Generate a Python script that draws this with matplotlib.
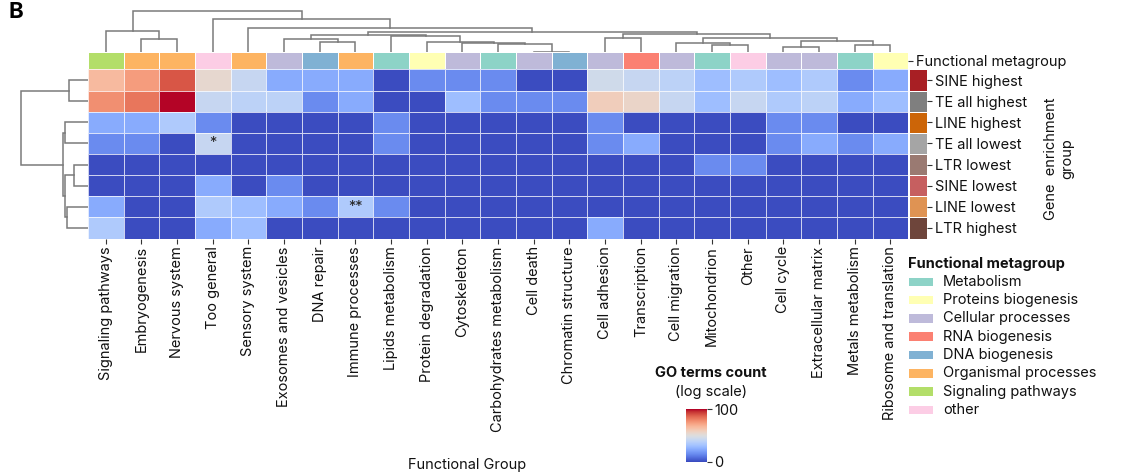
import numpy as np
import matplotlib
matplotlib.use("Agg")
import matplotlib.pyplot as plt
from matplotlib.colors import ListedColormap, Normalize
from matplotlib.patches import Rectangle
from matplotlib.cm import ScalarMappable

plt.rcParams['font.family'] = ['Inter', 'DejaVu Sans']

# ---------------- data ----------------
functional_groups = [
    "Signaling pathways", "Embryogenesis", "Nervous system", "Too general",
    "Sensory system", "Exosomes and vesicles", "DNA repair", "Immune processes",
    "Lipids metabolism", "Protein degradation", "Cytoskeleton",
    "Carbohydrates metabolism", "Cell death", "Chromatin structure",
    "Cell adhesion", "Transcription", "Cell migration", "Mitochondrion",
    "Other", "Cell cycle", "Extracellular matrix", "Metals metabolism",
    "Ribosome and translation",
]

column_metagroup = [
    "Signaling pathways", "Organismal processes", "Organismal processes", "other",
    "Organismal processes", "Cellular processes", "DNA biogenesis", "Organismal processes",
    "Metabolism", "Proteins biogenesis", "Cellular processes",
    "Metabolism", "Cellular processes", "DNA biogenesis",
    "Cellular processes", "RNA biogenesis", "Cellular processes", "Metabolism",
    "other", "Cellular processes", "Cellular processes", "Metabolism",
    "Proteins biogenesis",
]

metagroups = ["Metabolism", "Proteins biogenesis", "Cellular processes", "RNA biogenesis",
              "DNA biogenesis", "Organismal processes", "Signaling pathways", "other"]
metagroup_colors = ["#8dd3c7", "#ffffb3", "#bebada", "#fb8072",
                    "#80b1d3", "#fdb462", "#b3de69", "#fccde5"]

enrichment_groups = ["SINE highest", "TE all highest", "LINE highest", "TE all lowest",
                     "LTR lowest", "SINE lowest", "LINE lowest", "LTR highest"]
enrichment_colors = ["#a81f24", "#7f7f7f", "#cc6508", "#a5a5a5",
                     "#9a7a72", "#c65f60", "#df9353", "#6e453b"]

# GO terms count per (enrichment group, functional group)
go_counts = [
    [20, 30, 60, 11, 6, 2, 2, 2, 0, 1, 1, 1, 0, 0, 7, 6, 5, 3, 4, 3, 4, 1, 2],
    [35, 45, 100, 6, 5, 5, 1, 2, 0, 0, 3, 1, 1, 1, 14, 12, 6, 3, 6, 4, 5, 2, 3],
    [2, 2, 4, 1, 0, 0, 0, 0, 1, 0, 0, 0, 0, 0, 1, 0, 0, 0, 0, 1, 1, 0, 0],
    [1, 1, 0, 6, 0, 0, 0, 0, 1, 0, 0, 0, 0, 0, 1, 2, 0, 0, 0, 1, 2, 1, 2],
    [0, 0, 0, 0, 0, 0, 0, 0, 0, 0, 0, 0, 0, 0, 0, 0, 0, 1, 1, 0, 0, 0, 0],
    [0, 0, 0, 2, 0, 1, 0, 0, 0, 0, 0, 0, 0, 0, 0, 0, 0, 0, 0, 0, 0, 0, 0],
    [2, 0, 0, 4, 3, 2, 1, 4, 1, 0, 0, 0, 0, 0, 0, 0, 0, 0, 0, 0, 0, 0, 0],
    [4, 0, 0, 2, 3, 0, 0, 0, 0, 0, 0, 0, 0, 0, 2, 0, 0, 0, 0, 0, 0, 0, 0],
]

significance = [
    ["", "", "", "", "", "", "", "", "", "", "", "", "", "", "", "", "", "", "", "", "", "", ""],
    ["", "", "", "", "", "", "", "", "", "", "", "", "", "", "", "", "", "", "", "", "", "", ""],
    ["", "", "", "", "", "", "", "", "", "", "", "", "", "", "", "", "", "", "", "", "", "", ""],
    ["", "", "", "*", "", "", "", "", "", "", "", "", "", "", "", "", "", "", "", "", "", "", ""],
    ["", "", "", "", "", "", "", "", "", "", "", "", "", "", "", "", "", "", "", "", "", "", ""],
    ["", "", "", "", "", "", "", "", "", "", "", "", "", "", "", "", "", "", "", "", "", "", ""],
    ["", "", "", "", "", "", "", "**", "", "", "", "", "", "", "", "", "", "", "", "", "", "", ""],
    ["", "", "", "", "", "", "", "", "", "", "", "", "", "", "", "", "", "", "", "", "", "", ""],
]

# hierarchical clustering (scipy-style linkage: left, right, height)
col_linkage = [
    (12, 13, 0.3), (19, 20, 5.3), (17, 18, 7.0), (21, 22, 7.0),
    (11, 23, 7.7), (10, 27, 9.3), (16, 25, 9.3), (6, 7, 10.0),
    (9, 28, 10.3), (24, 26, 11.3), (1, 2, 13.0), (5, 30, 13.3),
    (14, 15, 14.3), (29, 32, 14.3), (8, 31, 16.0), (34, 37, 17.3),
    (35, 36, 17.7), (38, 39, 20.0), (0, 33, 21.3), (4, 40, 24.0),
    (3, 42, 33.0), (41, 43, 41.3),
]
row_linkage = [
    (4, 5, 13.7), (0, 1, 18.7), (6, 7, 20.7), (8, 10, 22.7),
    (2, 3, 23.0), (12, 11, 25.3), (9, 13, 67.3),
]

# ---------------- figure ----------------
W, H = 1127, 476
fig = plt.figure(figsize=(W / 100, H / 100), dpi=100)
FS = 10.5
TXT = "#111111"


def add_ax(x0, y0, x1, y1):
    return fig.add_axes([x0 / W, 1 - y1 / H, (x1 - x0) / W, (y1 - y0) / H])


def dendro_segments(linkage, n_leaves):
    pos = {i: i + 0.5 for i in range(n_leaves)}
    hgt = {i: 0.0 for i in range(n_leaves)}
    segs = []
    for k, (a, b, h) in enumerate(linkage):
        cid = n_leaves + k
        xa, xb = pos[a], pos[b]
        segs.append(([xa, xa, xb, xb], [hgt[a], h, h, hgt[b]]))
        pos[cid] = (xa + xb) / 2
        hgt[cid] = h
    return segs


n_rows, n_cols = len(enrichment_groups), len(functional_groups)
counts = np.array(go_counts, dtype=float)
vmax_count = 100
norm = Normalize(0, np.log1p(vmax_count))
cmap = plt.get_cmap("coolwarm")

HX0, HX1, HY0, HY1 = 88, 908.3, 69.5, 238.5

# heatmap
ax = add_ax(HX0, HY0, HX1, HY1)
ax.pcolormesh(np.arange(n_cols + 1), np.arange(n_rows + 1), np.log1p(counts),
              cmap=cmap, norm=norm, edgecolors=(1, 1, 1, 0.75), linewidth=0.7)
ax.set_xlim(0, n_cols)
ax.set_ylim(n_rows, 0)
for i in range(n_rows):
    for j in range(n_cols):
        if significance[i][j]:
            ax.text(j + 0.5, i + 0.5, significance[i][j], ha='center', va='center',
                    fontsize=FS, color="#262626")
ax.set_xticks(np.arange(n_cols) + 0.5)
ax.set_xticklabels(functional_groups, rotation=90, fontsize=FS, color=TXT)
ax.set_yticks([])
ax.tick_params(axis='x', length=3.5, width=0.8, pad=2, color="#333333")
for s in ax.spines.values():
    s.set_visible(False)

# column colors
axc = add_ax(HX0, 52, HX1, 69.2)
col_idx = np.array([[metagroups.index(g) for g in column_metagroup]])
axc.pcolormesh(np.arange(n_cols + 1), [0, 1], col_idx, cmap=ListedColormap(metagroup_colors),
               vmin=-0.5, vmax=len(metagroups) - 0.5, edgecolors='white', linewidth=0.7)
axc.set_xlim(0, n_cols)
axc.set_ylim(1, 0)
axc.set_xticks([])
axc.yaxis.tick_right()
axc.set_yticks([0.5])
axc.set_yticklabels(["Functional metagroup"], fontsize=FS, color=TXT)
axc.tick_params(axis='y', length=3.5, width=0.8, pad=2, color="#333333")
for s in axc.spines.values():
    s.set_visible(False)

# row colors
axr = add_ax(909.3, HY0, 927.3, HY1)
axr.pcolormesh([0, 1], np.arange(n_rows + 1), np.arange(n_rows).reshape(-1, 1),
               cmap=ListedColormap(enrichment_colors), vmin=-0.5, vmax=n_rows - 0.5,
               edgecolors='white', linewidth=0.7)
axr.set_xlim(0, 1)
axr.set_ylim(n_rows, 0)
axr.set_xticks([])
axr.yaxis.tick_right()
axr.set_yticks(np.arange(n_rows) + 0.5)
axr.set_yticklabels(enrichment_groups, fontsize=FS, color=TXT)
axr.tick_params(axis='y', length=3.5, width=0.8, pad=2, color="#333333")
for s in axr.spines.values():
    s.set_visible(False)

# top dendrogram
axd = add_ax(HX0, 0, HX1, 52)
for xs, ys in dendro_segments(col_linkage, n_cols):
    axd.plot(xs, ys, color="#7a7a7a", lw=1.1, solid_joinstyle='miter')
axd.set_xlim(0, n_cols)
axd.set_ylim(0, 52)
axd.axis('off')

# left dendrogram
axl = add_ax(0, HY0, HX0, HY1)
for ys, xs in dendro_segments(row_linkage, n_rows):
    axl.plot(xs, ys, color="#7a7a7a", lw=1.1, solid_joinstyle='miter')
axl.set_xlim(HX0, 0)
axl.set_ylim(n_rows, 0)
axl.axis('off')

# axis titles
fig.text(467 / W, 1 - 465 / H, "Functional Group", ha='center', va='center', fontsize=FS, color=TXT)
fig.text(1059 / W, 1 - 159 / H, "Gene  enrichment\ngroup", rotation=90, ha='center', va='center',
         multialignment='center', fontsize=FS, color=TXT)
fig.text(9 / W, 1 - 2 / H, "B", ha='left', va='top', fontsize=16, fontweight='bold', color='black')

# legend for metagroups
fig.text(908 / W, 1 - 264 / H, "Functional metagroup", ha='left', va='center',
         fontsize=FS, fontweight='bold', color=TXT)
for k, (name, col) in enumerate(zip(metagroups, metagroup_colors)):
    yc = 281.7 + 18.33 * k
    fig.add_artist(Rectangle((909 / W, 1 - (yc + 4.2) / H), 24 / W, 8.4 / H,
                             transform=fig.transFigure, facecolor=col, edgecolor='none'))
    fig.text(943 / W, 1 - yc / H, name, ha='left', va='center', fontsize=FS, color=TXT)

# colorbar
cax = add_ax(686, 409.3, 706.7, 461.7)
cb = fig.colorbar(ScalarMappable(norm=norm, cmap=cmap), cax=cax, orientation='vertical')
cb.outline.set_visible(False)
cb.set_ticks([0, np.log1p(vmax_count)])
cb.set_ticklabels(["0", str(vmax_count)])
cax.tick_params(length=3.5, width=0.8, pad=2, labelsize=FS, color="#333333", labelcolor=TXT)
fig.text(710.7 / W, 1 - 372.7 / H, "GO terms count", ha='center', va='center',
         fontsize=FS, fontweight='bold', color=TXT)
fig.text(710.7 / W, 1 - 391.7 / H, "(log scale)", ha='center', va='center', fontsize=FS, color=TXT)

fig.savefig("out.png", dpi=100)
